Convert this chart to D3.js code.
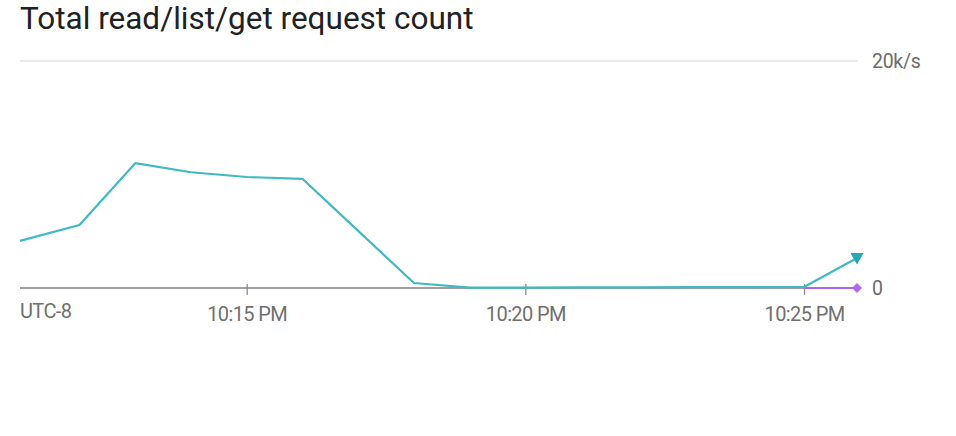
<!DOCTYPE html>
<html><head><meta charset="utf-8">
<script src="https://cdn.jsdelivr.net/npm/d3@7"></script>
<style>
html,body{margin:0;padding:0;background:#fff;}
svg{display:block;font-family:Roboto,"Noto Sans",sans-serif;}
</style></head>
<body>
<svg id="c" width="956" height="436"></svg>
<script>
// Data (times in minutes after 22:00)
const title = "Total read/list/get request count";
const domainMinutes = [10.933, 25.95];
const readTimes = [10.933, 12, 13, 14, 15, 16, 17, 18, 19, 20, 21, 22, 23, 24, 25, 25.95];
const readValues = [4150, 5550, 11000, 10200, 9780, 9620, 5030, 440, 40, 40, 50, 60, 70, 80, 90, 2650];
const otherTimes = [25, 25.95];
const otherValues = [0, 0];
const yTickValues = [0, 20000];
const yTickLabels = ["0", "20k/s"];
const xTickMinutes = [15, 20, 25];
const xTickLabels = ["10:15 PM", "10:20 PM", "10:25 PM"];
const tzLabel = "UTC-8";

const svg = d3.select("#c");
const x = d3.scaleLinear().domain(domainMinutes).range([20, 857]);
const y = d3.scaleLinear().domain([0, 20000]).range([288, 61]);

svg.append("text").attr("x", 20).attr("y", 29)
  .attr("font-size", 31.5).attr("fill", "#202124").text(title);

// grid
svg.append("line").attr("x1", 20).attr("x2", 858)
  .attr("y1", y(20000)).attr("y2", y(20000))
  .attr("stroke", "#e3e3e6").attr("stroke-width", 1.5);

// y labels
svg.selectAll(".yl").data(yTickValues).enter().append("text")
  .attr("x", 872).attr("y", d => y(d)).attr("dy", "0.36em")
  .attr("font-size", 19.5).attr("fill", "#6b6b6b").attr("letter-spacing", "-0.3px")
  .text((d, i) => yTickLabels[i]);

// baseline axis
const xAxis = d3.axisBottom(x).tickValues(xTickMinutes)
  .tickFormat((d, i) => xTickLabels[i]).tickSize(8).tickPadding(11);
const gx = svg.append("g").attr("transform", "translate(0,288)").call(xAxis);
gx.select(".domain").attr("stroke", "#9e9ea3").attr("stroke-width", 2)
  .attr("d", `M20,0H857`);
gx.selectAll(".tick line").attr("stroke", "#8a8a8f").attr("stroke-width", 1.3).attr("y1", -4).attr("y2", 7);
gx.selectAll(".tick text").attr("font-size", 20).attr("fill", "#6f6f6f")
  .attr("font-family", "Roboto, sans-serif").attr("letter-spacing", "-0.6px");
svg.append("text").attr("x", 20).attr("y", 318).attr("font-size", 20)
  .attr("fill", "#6f6f6f").attr("letter-spacing", "-0.6px").text(tzLabel);

const line = d3.line().x(d => x(d[0])).y(d => y(d[1]));
const readData = readTimes.map((t, i) => [t, readValues[i]]);
const otherData = otherTimes.map((t, i) => [t, otherValues[i]]);

svg.append("path").datum(otherData).attr("d", line)
  .attr("fill", "none").attr("stroke", "#a964f0").attr("stroke-width", 2.2);
svg.append("path").datum(readData).attr("d", line)
  .attr("fill", "none").attr("stroke", "#40b9c1").attr("stroke-width", 2.2)
  .attr("stroke-linejoin", "round");

// end markers
const lastR = readData[readData.length - 1];
svg.append("path").attr("d", d3.symbol().type(d3.symbolTriangle).size(75))
  .attr("transform", `translate(${x(lastR[0])},${y(lastR[1]) - 1}) rotate(180)`)
  .attr("fill", "#22a9b3");
const lastO = otherData[otherData.length - 1];
svg.append("path").attr("d", d3.symbol().type(d3.symbolSquare).size(50))
  .attr("transform", `translate(${x(lastO[0])},${y(lastO[1])}) rotate(45)`)
  .attr("fill", "#b266f5");
</script>
</body></html>
